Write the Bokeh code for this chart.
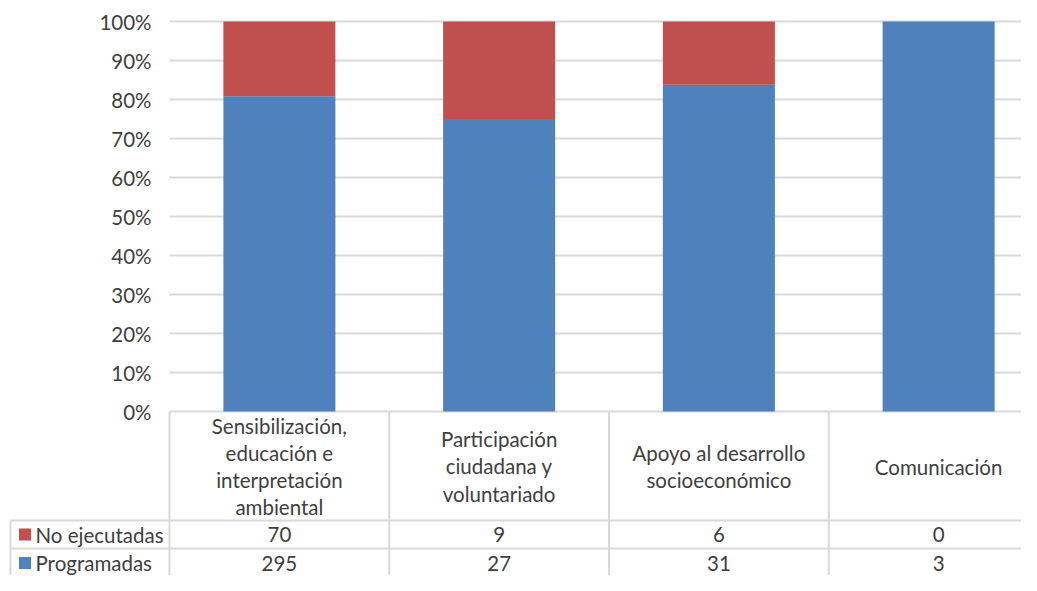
from bokeh.plotting import figure
from bokeh.models import Range1d
from bokeh.core.properties import value
from bokeh.embed import file_html
from bokeh.resources import INLINE

# ---------------- data ----------------
categories = [
    "Sensibilización,\neducación e\ninterpretación\nambiental",
    "Participación\nciudadana y\nvoluntariado",
    "Apoyo al desarrollo\nsocioeconómico",
    "Comunicación",
]
series_names = ["No ejecutadas", "Programadas"]
no_ejecutadas = [70, 9, 6, 0]
programadas = [295, 27, 31, 3]
tick_values = [0, 10, 20, 30, 40, 50, 60, 70, 80, 90, 100]
tick_labels = ["0%", "10%", "20%", "30%", "40%", "50%", "60%", "70%", "80%", "90%", "100%"]

# ---------------- styles / layout ----------------
RED = "#C0504D"
BLUE = "#4F81BD"
GRID = "#D9D9D9"
TXT = "#404040"
FONT = "Lato"
FS = "20.5px"

W, H = 1021, 575          # figure size
PX0, PY0 = 0, 0           # picture position of the figure
CAT_LEFT = 169            # x of first category boundary
CAT_W = 219.75            # px per category
Y0 = 411                  # y of 0 %
PX_PER_PCT = 3.9          # px per percent
BAR_PX = 112


def dx(px):
    return (px - CAT_LEFT) / CAT_W


def dy(py):
    return (Y0 - py) / PX_PER_PCT


x_start, x_end = dx(PX0), dx(PX0 + W)
y_end, y_start = dy(PY0), dy(PY0 + H)

p = figure(width=W, height=H, x_range=Range1d(x_start, x_end), y_range=Range1d(y_start, y_end),
           output_backend="svg", toolbar_location=None, x_axis_type=None, y_axis_type=None,
           min_border=0, min_border_left=0, min_border_right=0, min_border_top=0, min_border_bottom=0)
p.outline_line_color = None
p.background_fill_color = "white"
p.border_fill_color = "white"
p.grid.visible = False

n = len(categories)
centers = [i + 0.5 for i in range(n)]
totals = [a + b for a, b in zip(no_ejecutadas, programadas)]
pct_prog = [b / t * 100 for b, t in zip(programadas, totals)]
pct_top = [(a + b) / t * 100 for a, b, t in zip(no_ejecutadas, programadas, totals)]

# gridlines
p.segment(x0=[0] * len(tick_values), x1=[x_end] * len(tick_values), y0=tick_values, y1=tick_values,
          line_color=GRID, line_width=2)

# bars (100 % stacked)
bw = BAR_PX / CAT_W
p.vbar(x=centers, width=bw, bottom=0, top=pct_prog, fill_color=BLUE, line_color=None)
p.vbar(x=centers, width=bw, bottom=pct_prog, top=pct_top, fill_color=RED, line_color=None)

# y tick labels
p.text(x=[dx(151)] * len(tick_values), y=tick_values, text=tick_labels,
       text_align="right", text_baseline="middle", text_font=value(FONT),
       text_font_size=FS, text_color=TXT)

# data table
ROW1_TOP, ROW2_TOP, HEADER_MID = 520, 548, 466
LEFT_PX = 10
row_y = [dy((ROW1_TOP + ROW2_TOP) / 2), dy((ROW2_TOP + PY0 + H) / 2 + 1)]

# horizontal table lines
p.segment(x0=[dx(LEFT_PX)] * 2, x1=[x_end] * 2, y0=[dy(ROW1_TOP), dy(ROW2_TOP)],
          y1=[dy(ROW1_TOP), dy(ROW2_TOP)], line_color=GRID, line_width=2)
# vertical table lines
vx = [float(i) for i in range(n + 1)]
p.segment(x0=vx, x1=vx, y0=[0] * len(vx), y1=[y_start] * len(vx), line_color=GRID, line_width=2)
p.segment(x0=[dx(LEFT_PX)], x1=[dx(LEFT_PX)], y0=[dy(ROW1_TOP)], y1=[y_start],
          line_color=GRID, line_width=2)

# header (category names)
p.text(x=centers, y=[dy(HEADER_MID)] * n, text=categories, text_align="center",
       text_baseline="middle", text_font=value(FONT), text_font_size=FS, text_color=TXT,
       text_line_height=1.13)

# row values
for vals, yy in zip([no_ejecutadas, programadas], row_y):
    p.text(x=centers, y=[yy] * n, text=[str(v) for v in vals], text_align="center",
           text_baseline="middle", text_font=value(FONT), text_font_size=FS, text_color=TXT)

# legend keys in table
p.scatter(x=[dx(24.5)] * 2, y=row_y, marker="square", size=12, fill_color=[RED, BLUE], line_color=None)
p.text(x=[dx(35)] * 2, y=row_y, text=series_names, text_align="left", text_baseline="middle",
       text_font=value(FONT), text_font_size=FS, text_color=TXT)

open("out.html", "w").write(file_html(p, INLINE))
